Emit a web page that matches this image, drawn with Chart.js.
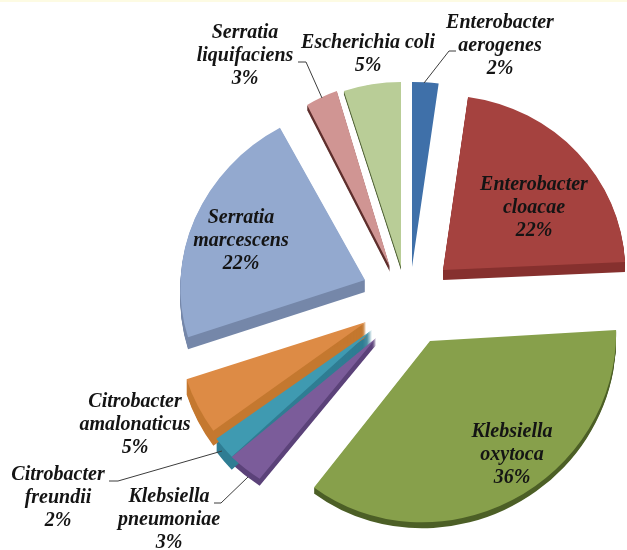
<!DOCTYPE html>
<html>
<head>
<meta charset="utf-8">
<title>Isolates</title>
<script src="https://cdn.jsdelivr.net/npm/chart.js@4/dist/chart.umd.min.js"></script>
<style>
  html, body { margin: 0; padding: 0; background: #fff; }
  #topline { position: absolute; left: 0; top: 0; width: 627px; height: 2px; background: #fdfbe3; }
  canvas { display: block; }
</style>
</head>
<body>
<div id="topline"></div>
<canvas id="pieChart" width="627" height="550"></canvas>
<script>
const species = [
  ['Enterobacter', 'aerogenes'],
  ['Enterobacter', 'cloacae'],
  ['Klebsiella', 'oxytoca'],
  ['Klebsiella', 'pneumoniae'],
  ['Citrobacter', 'freundii'],
  ['Citrobacter', 'amalonaticus'],
  ['Serratia', 'marcescens'],
  ['Serratia', 'liquifaciens'],
  ['Escherichia coli']
];
const shares = [2, 22, 36, 3, 2, 5, 22, 3, 5];

const topColors = ['#3f70a9', '#a5423f', '#87a04b', '#7b5c9a', '#3f9ab1', '#dd8b45', '#93a9cf', '#d09593', '#b9cd97'];
const sideColors = ['#345d8c', '#86302e', '#4c5f26', '#5b4279', '#2f7d93', '#c4782f', '#7587a9', '#5f2f2d', '#4e6034'];

// slice pull-out as x/y shift from the pie centre, and wall height
const pullOut = [[7, -33], [38, -30], [25, 41], [-29, 38], [-33, 30], [-39, 22], [-40, -20], [-15, -33], [-4, -33]];
const thickness = [0, 10, 6, 7, 13, 15, 12, 5, 3];

// fake 3D tilt: a 2x2 matrix applied to each slice around its tip
const tilt = [
  [1.15, 0, 0, 1],
  [0.985, 0.016, -0.012, 0.945],
  [1.005, 0.002, -0.045, 0.98],
  [1.07, 0, 0, 0.94],
  [1.04, 0, 0, 1],
  [1.02, 0, 0, 1],
  [0.998, -0.017, -0.024, 0.948],
  [0.93, 0, 0, 1],
  [1, 0, 0, 1]
];

// text anchor for each label: centre x, first line y
const labelAt = [
  [500, 23], [534, 185], [512, 432], [169, 497], [58, 475],
  [135, 402], [241, 218], [245, 33], [368, 43]
];
const leaders = [
  [[456, 51], [449, 51], [424, 83]],
  [[298, 62], [306, 62], [322, 98]],
  [[109, 481], [118, 481], [222, 451]],
  [[214, 503], [221, 503], [248, 477]]
];

function placeSlice(ctx, arc, i, drop) {
  const m = tilt[i];
  ctx.translate(arc.x + pullOut[i][0], arc.y + pullOut[i][1] + drop);
  ctx.transform(m[0], m[1], m[2], m[3], 0, 0);
  ctx.translate(-arc.x, -arc.y);
}

const solidSlices = {
  id: 'solidSlices',
  beforeDatasetDraw(chart, args) {
    const ctx = chart.ctx;
    const arcs = args.meta.data;

    // side walls first, so the top faces sit over them
    arcs.forEach((arc, i) => {
      ctx.fillStyle = sideColors[i];
      for (let d = 1; d <= thickness[i]; d++) {
        ctx.save();
        placeSlice(ctx, arc, i, d);
        ctx.beginPath();
        ctx.moveTo(arc.x, arc.y);
        ctx.arc(arc.x, arc.y, arc.outerRadius, arc.startAngle, arc.endAngle);
        ctx.closePath();
        ctx.fill();
        ctx.restore();
      }
    });

    arcs.forEach((arc, i) => {
      ctx.save();
      placeSlice(ctx, arc, i, 0);
      arc.draw(ctx);
      ctx.restore();
    });
    return false;
  },
  afterDatasetsDraw(chart) {
    const ctx = chart.ctx;
    ctx.save();
    ctx.strokeStyle = '#3c3c3c';
    ctx.lineWidth = 1;
    leaders.forEach(line => {
      ctx.beginPath();
      line.forEach((p, n) => n ? ctx.lineTo(p[0], p[1]) : ctx.moveTo(p[0], p[1]));
      ctx.stroke();
    });

    ctx.font = 'italic bold 20px "Liberation Serif"';
    ctx.fillStyle = '#141414';
    ctx.textAlign = 'center';
    ctx.textBaseline = 'middle';
    species.forEach((name, i) => {
      const lines = name.concat(shares[i] + '%');
      lines.forEach((text, n) => ctx.fillText(text, labelAt[i][0], labelAt[i][1] + n * 23));
    });
    ctx.restore();
  }
};

new Chart(document.getElementById('pieChart'), {
  type: 'pie',
  data: {
    labels: species.map(s => s.join(' ')),
    datasets: [{
      data: shares,
      backgroundColor: topColors,
      borderWidth: 0,
      radius: 185
    }]
  },
  options: {
    responsive: false,
    animation: false,
    layout: { padding: { left: 183, top: 50 } },
    plugins: { legend: { display: false }, tooltip: { enabled: false } }
  },
  plugins: [solidSlices]
});
</script>
</body>
</html>
